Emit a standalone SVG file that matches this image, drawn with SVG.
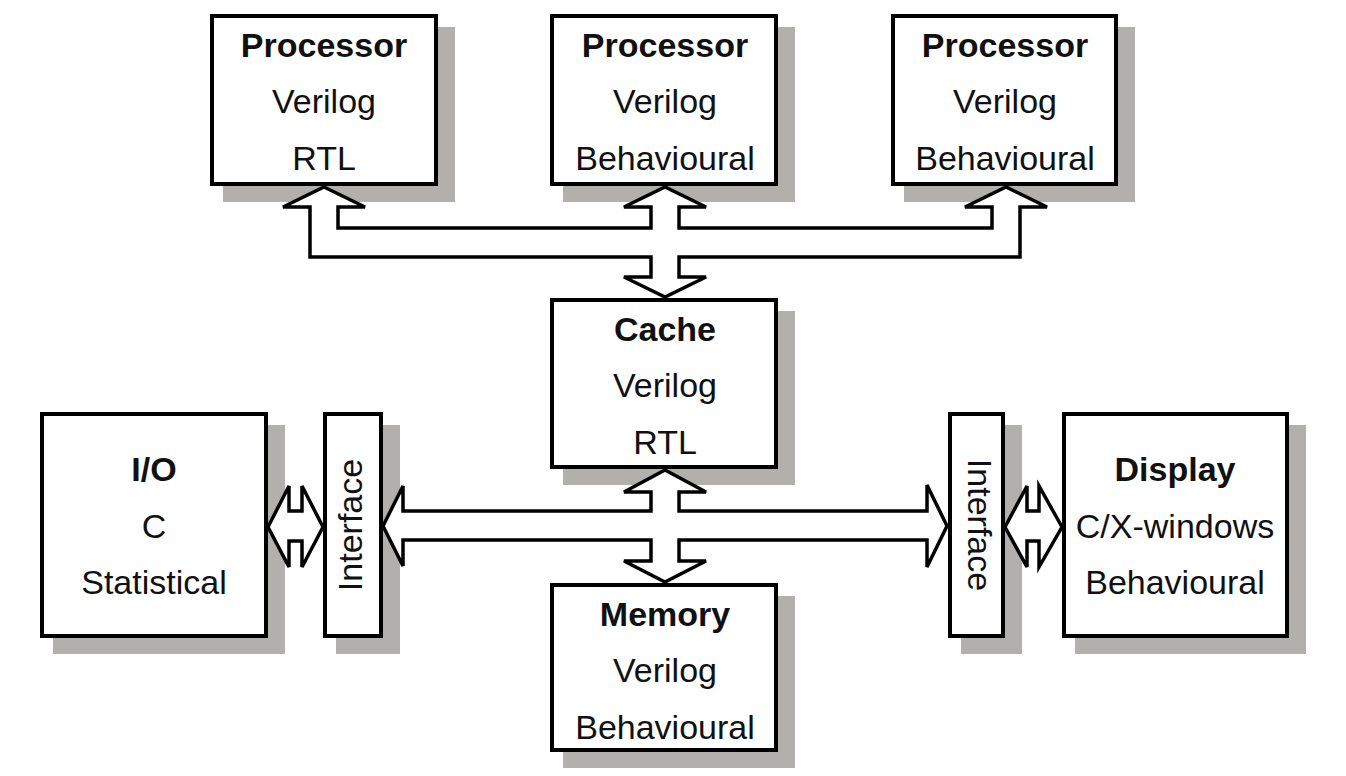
<svg xmlns="http://www.w3.org/2000/svg" width="1346" height="776" viewBox="0 0 1346 776">
<style>
.bg{fill:#ffffff}
.sh{fill:#b2b0ad}
.bx{fill:#ffffff;stroke:#000;stroke-width:4}
.ar{fill:#ffffff;stroke:#000;stroke-width:3.5;stroke-linejoin:miter}
text{font-family:"Liberation Sans",Arial,sans-serif;font-size:34px;fill:#111;text-anchor:middle}
.t{font-weight:bold}
</style>
<rect class="bg" x="0" y="0" width="1346" height="776"/>
<g id="proc1">
<rect class="sh" x="223" y="27" width="232" height="175"/>
<rect class="bx" x="212" y="16" width="224" height="168"/>
<text class="t" x="324" y="57">Processor</text>
<text x="324" y="113">Verilog</text>
<text x="324" y="170">RTL</text>
</g>
<g id="proc2">
<rect class="sh" x="563" y="27" width="232" height="175"/>
<rect class="bx" x="552" y="16" width="224" height="168"/>
<text class="t" x="665" y="57">Processor</text>
<text x="665" y="113">Verilog</text>
<text x="665" y="170">Behavioural</text>
</g>
<g id="proc3">
<rect class="sh" x="904" y="27" width="231" height="175"/>
<rect class="bx" x="893" y="16" width="223" height="168"/>
<text class="t" x="1005" y="57">Processor</text>
<text x="1005" y="113">Verilog</text>
<text x="1005" y="170">Behavioural</text>
</g>
<g id="cache">
<rect class="sh" x="563" y="311" width="232" height="174"/>
<rect class="bx" x="552" y="300" width="224" height="167"/>
<text class="t" x="665" y="341">Cache</text>
<text x="665" y="397">Verilog</text>
<text x="665" y="454">RTL</text>
</g>
<g id="memory">
<rect class="sh" x="563" y="596" width="232" height="172"/>
<rect class="bx" x="552" y="585" width="224" height="165"/>
<text class="t" x="665" y="626">Memory</text>
<text x="665" y="682">Verilog</text>
<text x="665" y="739">Behavioural</text>
</g>
<g id="io">
<rect class="sh" x="53" y="425" width="232" height="229"/>
<rect class="bx" x="42" y="414" width="224" height="222"/>
<text class="t" x="154" y="481">I/O</text>
<text x="154" y="538">C</text>
<text x="154" y="594">Statistical</text>
</g>
<g id="interface-left">
<rect class="sh" x="336" y="425" width="64" height="229"/>
<rect class="bx" x="325" y="414" width="56" height="222"/>
<text transform="translate(362,525) rotate(-90)">Interface</text>
</g>
<g id="interface-right">
<rect class="sh" x="961" y="425" width="61" height="229"/>
<rect class="bx" x="950" y="414" width="53" height="222"/>
<text transform="translate(968,525) rotate(90)">Interface</text>
</g>
<g id="display">
<rect class="sh" x="1075" y="425" width="231" height="229"/>
<rect class="bx" x="1064" y="414" width="223" height="222"/>
<text class="t" x="1175" y="481">Display</text>
<text x="1175" y="538">C/X-windows</text>
<text x="1175" y="594">Behavioural</text>
</g>
<g id="connectors">
<polygon class="ar" points="324,187 365,207 338,207 338,228 651,228 651,207 624,207 665,187 706,207 679,207 679,228 992,228 992,207 965,207 1006,187 1047,207 1020,207 1020,257 679,257 679,277 706,277 665,297 624,277 651,277 651,257 310,257 310,207 283,207"/>
<polygon class="ar" points="383,526 403,486 403,511 651,511 651,492 624,492 665,470 706,492 679,492 679,511 927,511 927,485 947,526 927,567 927,540 679,540 679,561 706,561 665,582 624,561 651,561 651,540 403,540 403,566"/>
<polygon class="ar" points="268,527 289,486 289,511 302,511 302,486 323,527 302,567 302,541 289,541 289,567"/>
<polygon class="ar" points="1005,527 1027,486 1027,511 1039,511 1039,486 1062,527 1039,567 1039,541 1027,541 1027,567"/>
</g>
</svg>
